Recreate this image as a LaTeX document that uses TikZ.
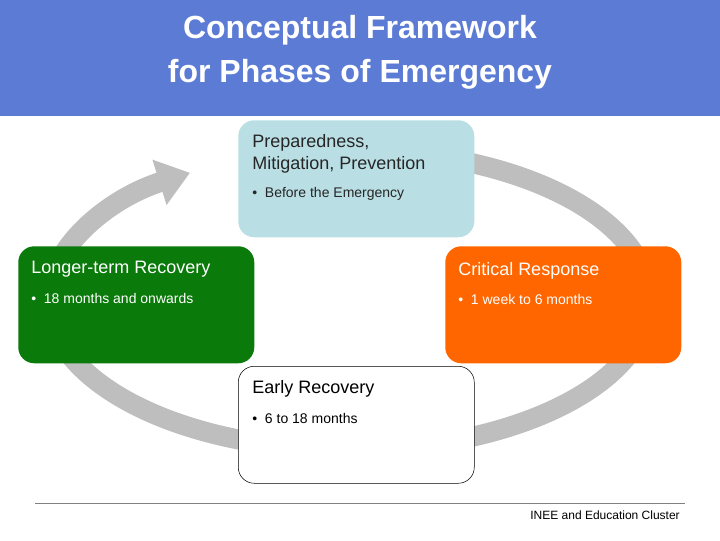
\documentclass[tikz,border=0pt]{standalone}
\usepackage{fontspec}
\setmainfont{Liberation Sans}
\usetikzlibrary{arrows.meta, positioning, calc}
\definecolor{TitleBlue}{HTML}{5B7BD5}
\definecolor{IceBlue}{HTML}{B9DEE3}
\definecolor{LeafGreen}{HTML}{0A7A0A}
\definecolor{Tangerine}{HTML}{FF6600}
\definecolor{RingGray}{HTML}{BEBEBE}
\tikzset{
    phase/.style={rectangle, rounded corners=12pt, anchor=north west,
        minimum width=236*0.75pt, minimum height=117*0.75pt, inner sep=0pt},
    head/.style={anchor=west, font=\fontsize{13.5}{16}\selectfont, align=left, inner sep=0pt},
    bullet/.style={anchor=west, font=\fontsize{10.5}{12}\selectfont, inner sep=0pt}
}
\begin{document}
\begin{tikzpicture}[x=0.75pt, y=-0.75pt]
    \useasboundingbox (0,0) rectangle (720,540);
    % Title band
    \fill[TitleBlue] (0,0) rectangle (720,116);
    \node[text=white, font=\fontsize{24}{33}\selectfont\bfseries, align=center] (title) at (360,52)
        {Conceptual Framework\\for Phases of Emergency};

    % Cycle ring
    \draw[RingGray, line width=15pt, -{Triangle[length=24pt, width=34pt]}]
        ($(349,300)+(80:300 and -150)$) arc[start angle=80, end angle=-238, x radius=300, y radius=-150];

    % Phases
    \node[phase, fill=IceBlue] (prep) at (238,120) {};
    \node[head, text=black!85] (prephead) at (252,154) {Preparedness,\\Mitigation, Prevention};
    \node[bullet, text=black!85] (prepnote) at (252,194) {\textbullet\ \ Before the Emergency};

    \node[phase, fill=LeafGreen] (long) at (18,246) {};
    \node[head, text=white] (longhead) at (31,269) {Longer-term Recovery};
    \node[bullet, text=white] (longnote) at (31,298) {\textbullet\ \ 18 months and onwards};

    \node[phase, fill=Tangerine] (crit) at (445,246) {};
    \node[head, text=white] (crithead) at (458,271) {Critical Response};
    \node[bullet, text=white] (critnote) at (458,299) {\textbullet\ \ 1 week to 6 months};

    \node[phase, fill=white, draw=black] (early) at (238,366) {};
    \node[head, text=black] (earlyhead) at (252,389) {Early Recovery};
    \node[bullet, text=black] (earlynote) at (252,418) {\textbullet\ \ 6 to 18 months};

    % Footer
    \draw[gray, line width=0.6pt] (35,503) -- (685,503);
    \node[anchor=east, font=\fontsize{9}{10}\selectfont, inner sep=0pt] (credit) at (680,515)
        {INEE and Education Cluster};
\end{tikzpicture}
\end{document}
